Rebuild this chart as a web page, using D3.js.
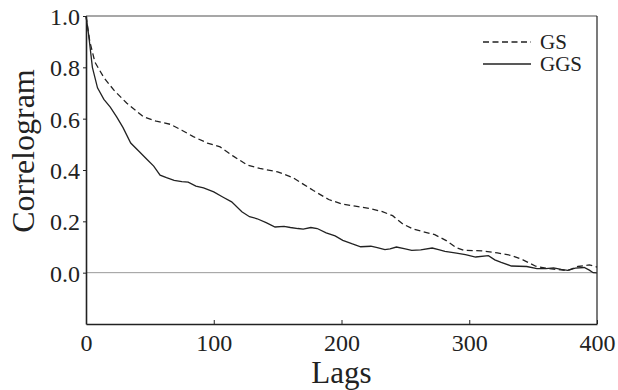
<!DOCTYPE html>
<html>
<head>
<meta charset="utf-8">
<script src="https://cdn.jsdelivr.net/npm/d3@7"></script>
<style>
  body { margin: 0; background: #fff; }
  text { font-family: "Liberation Serif", "DejaVu Serif", serif; fill: #222; }
</style>
</head>
<body>
<div id="chart"></div>
<script>
// lags and correlogram values
const gsLags = [0, 3, 7, 14, 22, 32, 45, 55, 66, 75, 84, 95, 105, 115, 126, 136, 150, 162, 170, 178,
  190, 200, 212, 222, 232, 240, 248, 256, 265, 273, 282, 290, 296, 310, 322, 333, 342, 352, 362,
  370, 377, 385, 394, 400];
const gsValues = [1.0, 0.90, 0.82, 0.76, 0.71, 0.66, 0.607, 0.59, 0.578, 0.555, 0.53, 0.505, 0.49,
  0.455, 0.42, 0.406, 0.393, 0.37, 0.345, 0.32, 0.285, 0.268, 0.258, 0.25, 0.238, 0.222, 0.19, 0.17,
  0.158, 0.148, 0.125, 0.097, 0.087, 0.085, 0.077, 0.067, 0.05, 0.025, 0.016, 0.012, 0.008, 0.024,
  0.03, 0.022];

const ggsLags = [0, 2, 5, 9, 14, 19, 24, 29, 35, 42, 48, 53, 58, 63, 69, 75, 80, 86, 92, 100, 107,
  114, 122, 128, 134, 141, 148, 155, 160, 166, 170, 176, 181, 188, 195, 201, 208, 215, 223, 228,
  234, 238, 243, 249, 255, 262, 271, 276, 281, 290, 297, 305, 315, 320, 325, 333, 345, 353, 360,
  366, 372, 377, 383, 390, 394, 397, 400];
const ggsValues = [1.0, 0.93, 0.80, 0.72, 0.675, 0.645, 0.607, 0.565, 0.505, 0.47, 0.44, 0.415,
  0.38, 0.37, 0.36, 0.355, 0.353, 0.337, 0.33, 0.315, 0.295, 0.276, 0.237, 0.218, 0.21, 0.195,
  0.178, 0.18, 0.176, 0.172, 0.17, 0.176, 0.172, 0.155, 0.143, 0.126, 0.113, 0.101, 0.103, 0.098,
  0.09, 0.093, 0.1, 0.094, 0.087, 0.089, 0.096, 0.09, 0.083, 0.076, 0.07, 0.061, 0.066, 0.05, 0.04,
  0.026, 0.024, 0.016, 0.016, 0.019, 0.013, 0.009, 0.018, 0.02, 0.01, 0.0, -0.001];

const xTicks = [0, 100, 200, 300, 400];
const yTicks = [0.0, 0.2, 0.4, 0.6, 0.8, 1.0];
const seriesNames = ["GS", "GGS"];

const width = 618;
const height = 390;
const margin = { top: 16, right: 21, bottom: 66, left: 86 };
const serif = "Liberation Serif, DejaVu Serif, serif";

const svg = d3.select("#chart")
  .append("svg")
  .attr("width", width)
  .attr("height", height);

const x = d3.scaleLinear().domain([0, 400]).range([margin.left, width - margin.right]);
const y = d3.scaleLinear().domain([-0.2, 1.0]).range([height - margin.bottom, margin.top]);

// frame: top grey, right dark
svg.append("line")
  .attr("x1", x(0)).attr("x2", x(400))
  .attr("y1", y(1)).attr("y2", y(1))
  .attr("stroke", "#8a8a8a").attr("stroke-width", 1.5);
svg.append("line")
  .attr("x1", x(400)).attr("x2", x(400))
  .attr("y1", y(1)).attr("y2", y(-0.2))
  .attr("stroke", "#222").attr("stroke-width", 1.2);

// zero reference line
svg.append("line")
  .attr("x1", x(0)).attr("x2", x(400))
  .attr("y1", y(0)).attr("y2", y(0))
  .attr("stroke", "#999").attr("stroke-width", 1);

// axes
const xAxis = svg.append("g")
  .attr("transform", `translate(0,${y(-0.2)})`)
  .call(d3.axisBottom(x).tickValues(xTicks).tickSizeInner(-4).tickSizeOuter(0).tickPadding(10).tickFormat(d3.format("d")));

const yAxis = svg.append("g")
  .attr("transform", `translate(${x(0)},0)`)
  .call(d3.axisLeft(y).tickValues(yTicks).tickSizeInner(3).tickSizeOuter(0).tickPadding(3).tickFormat(d3.format(".1f")));

[xAxis, yAxis].forEach(g => {
  g.attr("font-family", serif).attr("font-size", 24);
  g.select(".domain").attr("stroke", "#222").attr("stroke-width", 1.6);
  g.selectAll(".tick line").attr("stroke", "#222").attr("stroke-width", 1);
  g.selectAll(".tick text").attr("fill", "#222");
});
yAxis.selectAll(".tick text").attr("dy", "0.36em");

// axis titles
svg.append("text")
  .attr("x", (x(0) + x(400)) / 2)
  .attr("y", 383)
  .attr("text-anchor", "middle")
  .attr("font-family", serif)
  .attr("font-size", 31)
  .text("Lags");

svg.append("text")
  .attr("transform", "translate(34,151) rotate(-90)")
  .attr("text-anchor", "middle")
  .attr("font-family", serif)
  .attr("font-size", 32)
  .text("Correlogram");

// series
const line = d3.line()
  .x(d => x(d[0]))
  .y(d => y(d[1]));

const gsData = d3.zip(gsLags, gsValues);
const ggsData = d3.zip(ggsLags, ggsValues);

svg.append("path")
  .datum(gsData)
  .attr("fill", "none")
  .attr("stroke", "#222")
  .attr("stroke-width", 1.3)
  .attr("stroke-dasharray", "6,3.5")
  .attr("d", line);

svg.append("path")
  .datum(ggsData)
  .attr("fill", "none")
  .attr("stroke", "#222")
  .attr("stroke-width", 1.3)
  .attr("d", line);

// legend
const legend = svg.append("g");
const legendRows = [
  { name: seriesNames[0], dash: "6,3.5", y: 42 },
  { name: seriesNames[1], dash: null, y: 64 }
];
legendRows.forEach(r => {
  legend.append("line")
    .attr("x1", 483).attr("x2", 531)
    .attr("y1", r.y).attr("y2", r.y)
    .attr("stroke", "#222")
    .attr("stroke-width", 1.3)
    .attr("stroke-dasharray", r.dash);
  legend.append("text")
    .attr("x", 540)
    .attr("y", r.y + 7)
    .attr("font-family", serif)
    .attr("font-size", 21)
    .text(r.name);
});
</script>
</body>
</html>
